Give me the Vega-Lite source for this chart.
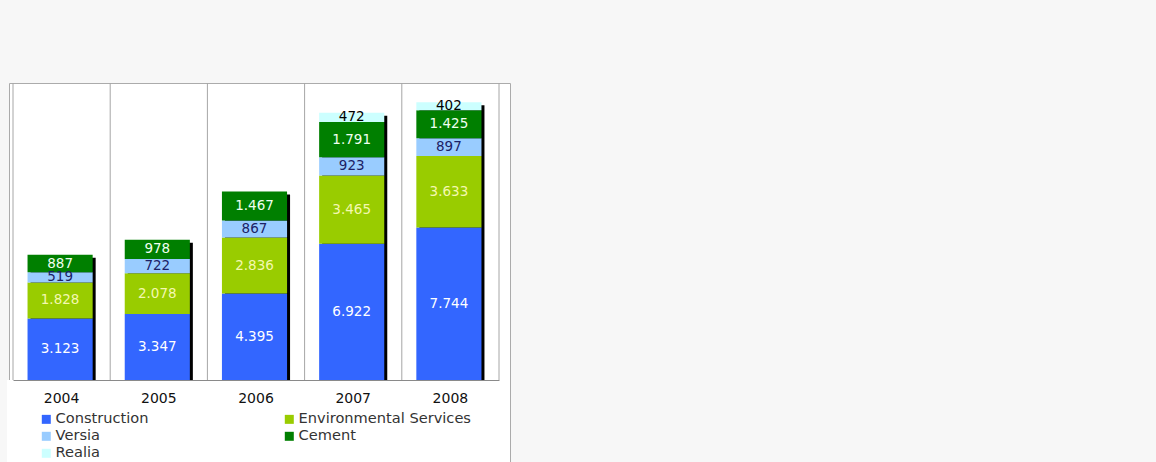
{
  "$schema": "https://vega.github.io/schema/vega-lite/v6.json",
  "width": 501,
  "height": 379,
  "autosize": {"type": "none"},
  "padding": {"left": 9, "top": 83, "right": 646, "bottom": 0},
  "background": "#f7f7f7",
  "config": {
    "view": {"fill": "white", "stroke": "#ababab", "strokeWidth": 1},
    "font": "DejaVu Sans"
  },
  "data": {
    "values": [
      {"year": "2004", "series": "Construction", "value": 3123},
      {"year": "2004", "series": "Environmental Services", "value": 1828},
      {"year": "2004", "series": "Versia", "value": 519},
      {"year": "2004", "series": "Cement", "value": 887},
      {"year": "2005", "series": "Construction", "value": 3347},
      {"year": "2005", "series": "Environmental Services", "value": 2078},
      {"year": "2005", "series": "Versia", "value": 722},
      {"year": "2005", "series": "Cement", "value": 978},
      {"year": "2006", "series": "Construction", "value": 4395},
      {"year": "2006", "series": "Environmental Services", "value": 2836},
      {"year": "2006", "series": "Versia", "value": 867},
      {"year": "2006", "series": "Cement", "value": 1467},
      {"year": "2007", "series": "Construction", "value": 6922},
      {"year": "2007", "series": "Environmental Services", "value": 3465},
      {"year": "2007", "series": "Versia", "value": 923},
      {"year": "2007", "series": "Cement", "value": 1791},
      {"year": "2007", "series": "Realia", "value": 472},
      {"year": "2008", "series": "Construction", "value": 7744},
      {"year": "2008", "series": "Environmental Services", "value": 3633},
      {"year": "2008", "series": "Versia", "value": 897},
      {"year": "2008", "series": "Cement", "value": 1425},
      {"year": "2008", "series": "Realia", "value": 402}
    ]
  },
  "layer": [
    {
      "mark": {"type": "bar", "color": "black", "width": {"band": 0.67}, "xOffset": 1.5, "yOffset": 3},
      "encoding": {
        "x": {
          "field": "year", "type": "nominal",
          "scale": {"range": [4, 490], "paddingInner": 0, "paddingOuter": 0},
          "axis": {
            "title": null, "labelAngle": 0, "ticks": false, "grid": false,
            "offset": -82, "zindex": 2,
            "domainColor": "#8a8a8a", "labelColor": "#111111",
            "labelFont": "DejaVu Sans", "labelFontSize": 14, "labelPadding": 11
          }
        },
        "y": {
          "aggregate": "sum", "field": "value", "type": "quantitative",
          "scale": {"domain": [0, 15080], "range": [297, 0], "nice": false},
          "axis": null
        }
      }
    },
    {
      "transform": [{"aggregate": [{"op": "count", "as": "n"}], "groupby": ["year"]}],
      "mark": {"type": "rule", "color": "#a6a6a6", "strokeWidth": 1},
      "encoding": {
        "x": {"field": "year", "type": "nominal", "bandPosition": 0}
      }
    },
    {
      "transform": [{"filter": "datum.year === '2008'"}, {"aggregate": [{"op": "count", "as": "n"}], "groupby": ["year"]}],
      "mark": {"type": "rule", "color": "#a6a6a6", "strokeWidth": 1},
      "encoding": {
        "x": {"field": "year", "type": "nominal", "bandPosition": 1}
      }
    },
    {
      "transform": [
        {"calculate": "indexof(['Construction','Environmental Services','Versia','Cement','Realia'], datum.series)", "as": "k"},
        {"stack": "value", "groupby": ["year"], "sort": [{"field": "k", "order": "ascending"}], "as": ["v0", "v1"]}
      ],
      "mark": {"type": "bar", "width": {"band": 0.67}, "xOffset": -1.5},
      "encoding": {
        "x": {"field": "year", "type": "nominal"},
        "y": {"field": "v1", "type": "quantitative"},
        "y2": {"field": "v0"},
        "color": {
          "field": "series", "type": "nominal",
          "scale": {
            "domain": ["Construction", "Environmental Services", "Versia", "Cement", "Realia"],
            "range": ["#3366ff", "#99cc00", "#99ccff", "#007f00", "#ccffff"]
          },
          "legend": {
            "title": null, "orient": "none", "legendX": -2, "legendY": 297,
            "direction": "horizontal",
            "columns": 2, "columnPadding": 133, "rowPadding": 2, "padding": 32,
            "fillColor": "white", "zindex": 1,
            "symbolType": "square", "symbolSize": 81, "symbolStrokeWidth": 0,
            "labelFont": "DejaVu Sans", "labelFontSize": 14.6, "labelColor": "#333333",
            "labelOffset": 2, "labelLimit": 300
          }
        }
      }
    },
    {
      "transform": [
        {"calculate": "indexof(['Construction','Environmental Services','Versia','Cement','Realia'], datum.series)", "as": "k"},
        {"stack": "value", "groupby": ["year"], "sort": [{"field": "k", "order": "ascending"}], "as": ["v0", "v1"]},
        {"calculate": "(datum.v0 + datum.v1) / 2", "as": "mid"},
        {"calculate": "replace(format(datum.value, ',d'), ',', '.')", "as": "label"}
      ],
      "mark": {"type": "text", "font": "DejaVu Sans", "fontSize": 13.5, "xOffset": -1.5, "baseline": "middle"},
      "encoding": {
        "x": {"field": "year", "type": "nominal"},
        "y": {"field": "mid", "type": "quantitative"},
        "text": {"field": "label", "type": "nominal"},
        "color": {
          "condition": [
            {"test": "datum.series === 'Construction'", "value": "#ffffff"},
            {"test": "datum.series === 'Environmental Services'", "value": "#f4f8b0"},
            {"test": "datum.series === 'Versia'", "value": "#1c2266"},
            {"test": "datum.series === 'Cement'", "value": "#f0fff0"}
          ],
          "value": "#000000"
        }
      }
    }
  ]
}
